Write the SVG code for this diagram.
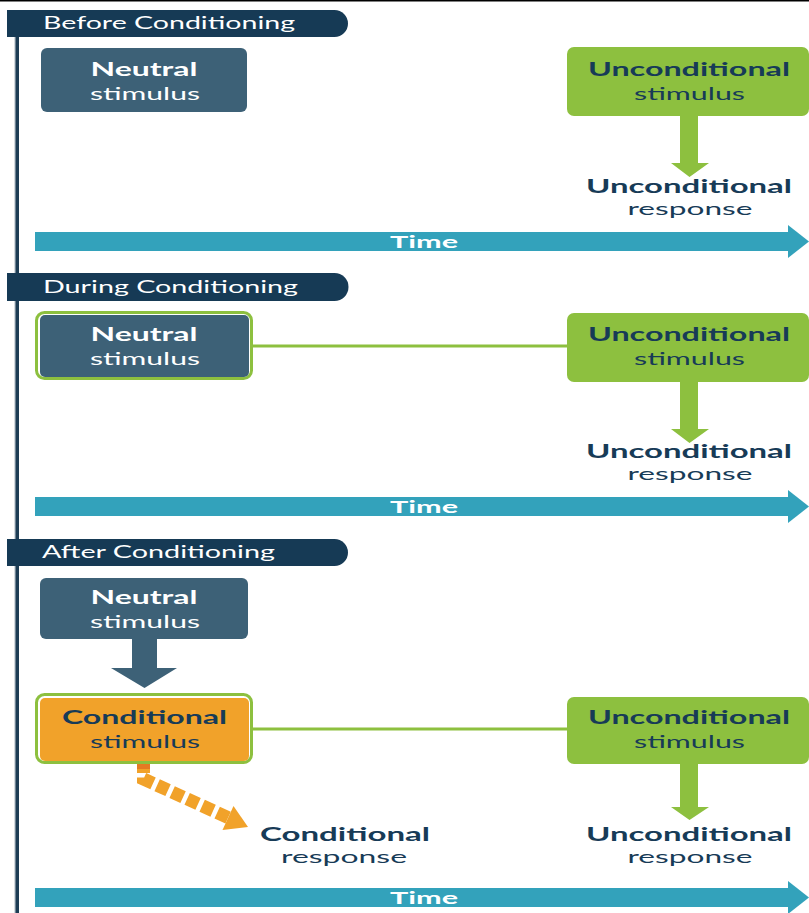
<svg xmlns="http://www.w3.org/2000/svg" width="809" height="913" viewBox="0 0 809 913">
<style>
.hdr{fill:#163A55}
.hdrt{font-family:Lato,"Open Sans",sans-serif;font-size:17px;fill:#ffffff}
.slate{fill:#3D6177}
.green{fill:#8DC03F}
.orange{fill:#F1A22A}
.frame{fill:#ffffff;stroke:#8DC03F;stroke-width:3}
.b{font-family:Lato,"Open Sans",sans-serif;font-size:18px;font-weight:700;text-anchor:middle}
.r{font-family:Lato,"Open Sans",sans-serif;font-size:18px;font-weight:400;text-anchor:middle}
.w{fill:#ffffff}
.n{fill:#173B57}
.time{fill:#33A2BB}
.tt{font-family:Lato,"Open Sans",sans-serif;font-size:17px;font-weight:700;fill:#ffffff;text-anchor:middle}
.link{stroke:#8DC03F;stroke-width:3;fill:none}
</style>
<rect x="0" y="0" width="809" height="1.5" fill="#000000"/>
<g id="timeline-axis">
<rect x="14.5" y="10" width="1.2" height="903" fill="#A9B6C0"/>
<rect x="15.5" y="10" width="3.5" height="903" fill="#1D3D55"/>
</g>
<g id="header-before">
<path class="hdr" d="M7,10 H334.5 A13.5,13.5 0 0 1 334.5,37 H7 Z"/>
<text class="hdrt" x="43" y="29" textLength="252" lengthAdjust="spacingAndGlyphs">Before Conditioning</text>
</g>
<g id="header-during">
<path class="hdr" d="M7,273 H334.5 A14,14 0 0 1 334.5,301 H7 Z"/>
<text class="hdrt" x="43" y="293" textLength="255" lengthAdjust="spacingAndGlyphs">During Conditioning</text>
</g>
<g id="header-after">
<path class="hdr" d="M7,539 H334.5 A13.5,13.5 0 0 1 334.5,566 H7 Z"/>
<text class="hdrt" x="42" y="558" textLength="233" lengthAdjust="spacingAndGlyphs">After Conditioning</text>
</g>
<g id="connectors">
<line class="link" x1="252" y1="346" x2="568" y2="346"/>
<line class="link" x1="252" y1="729" x2="568" y2="729"/>
<path class="green" d="M680,115 H698 V163 H709 L689.5,177 L671,163 H680 Z"/>
<path class="green" d="M680,381 H698 V429 H709 L689.5,443 L671,429 H680 Z"/>
<path class="green" d="M680,763 H698 V807 H709 L689.5,820 L671,807 H680 Z"/>
<path class="slate" d="M132,638 H157 V668 H177 L144.5,688 L111,668 H132 Z"/>
<path d="M143.5,761 V779 L229,818" fill="none" stroke="#F1A22A" stroke-width="13" stroke-dasharray="12 4.5" stroke-linejoin="miter"/>
<rect x="137" y="761" width="13" height="8" fill="#E57A22"/>
<polygon points="248,827 222.5,830 233.5,806" fill="#F1A22A"/>
</g>
<g id="neutral-before">
<rect class="slate" x="41" y="48" width="206" height="64" rx="6"/>
<text class="b w" x="144" y="76" textLength="107" lengthAdjust="spacingAndGlyphs">Neutral</text>
<text class="r w" x="145" y="100" textLength="110" lengthAdjust="spacingAndGlyphs">stimulus</text>
</g>
<g id="us-before">
<rect class="green" x="567" y="47" width="242" height="69" rx="7"/>
<text class="b n" x="689" y="76" textLength="202" lengthAdjust="spacingAndGlyphs">Unconditional</text>
<text class="r n" x="689.5" y="100" textLength="111" lengthAdjust="spacingAndGlyphs">stimulus</text>
</g>
<g id="ur-before">
<text class="b n" x="689" y="193" textLength="206" lengthAdjust="spacingAndGlyphs">Unconditional</text>
<text class="r n" x="690" y="215" textLength="125" lengthAdjust="spacingAndGlyphs">response</text>
</g>
<g id="time-before">
<rect class="time" x="35" y="232" width="754" height="19"/>
<polygon class="time" points="788,225 809,241.5 788,258"/>
<text class="tt" x="424" y="248" textLength="68" lengthAdjust="spacingAndGlyphs">Time</text>
</g>
<g id="neutral-during">
<rect class="frame" x="36.5" y="312.5" width="215" height="66" rx="8"/>
<rect class="slate" x="40" y="315" width="209" height="62" rx="5"/>
<text class="b w" x="144" y="341" textLength="107" lengthAdjust="spacingAndGlyphs">Neutral</text>
<text class="r w" x="145" y="365" textLength="110" lengthAdjust="spacingAndGlyphs">stimulus</text>
</g>
<g id="us-during">
<rect class="green" x="567" y="313" width="242" height="69" rx="7"/>
<text class="b n" x="689" y="341" textLength="202" lengthAdjust="spacingAndGlyphs">Unconditional</text>
<text class="r n" x="689.5" y="365" textLength="111" lengthAdjust="spacingAndGlyphs">stimulus</text>
</g>
<g id="ur-during">
<text class="b n" x="689" y="458" textLength="206" lengthAdjust="spacingAndGlyphs">Unconditional</text>
<text class="r n" x="690" y="480" textLength="125" lengthAdjust="spacingAndGlyphs">response</text>
</g>
<g id="time-during">
<rect class="time" x="35" y="497" width="754" height="19"/>
<polygon class="time" points="788,490 809,506.5 788,523"/>
<text class="tt" x="424" y="513" textLength="68" lengthAdjust="spacingAndGlyphs">Time</text>
</g>
<g id="neutral-after">
<rect class="slate" x="40" y="578" width="208" height="61" rx="6"/>
<text class="b w" x="144" y="604" textLength="107" lengthAdjust="spacingAndGlyphs">Neutral</text>
<text class="r w" x="145" y="628" textLength="110" lengthAdjust="spacingAndGlyphs">stimulus</text>
</g>
<g id="cs-after">
<rect class="frame" x="36.5" y="694.5" width="215" height="68" rx="8"/>
<rect class="orange" x="40" y="698" width="209" height="63" rx="5"/>
<text class="b n" x="144.5" y="724" textLength="165" lengthAdjust="spacingAndGlyphs">Conditional</text>
<text class="r n" x="145" y="748" textLength="110" lengthAdjust="spacingAndGlyphs">stimulus</text>
</g>
<g id="cr-after">
<text class="b n" x="345" y="841" textLength="170" lengthAdjust="spacingAndGlyphs">Conditional</text>
<text class="r n" x="344" y="863" textLength="126" lengthAdjust="spacingAndGlyphs">response</text>
</g>
<g id="us-after">
<rect class="green" x="567" y="697" width="242" height="67" rx="7"/>
<text class="b n" x="689" y="724" textLength="202" lengthAdjust="spacingAndGlyphs">Unconditional</text>
<text class="r n" x="689.5" y="748" textLength="111" lengthAdjust="spacingAndGlyphs">stimulus</text>
</g>
<g id="ur-after">
<text class="b n" x="689" y="841" textLength="206" lengthAdjust="spacingAndGlyphs">Unconditional</text>
<text class="r n" x="690" y="863" textLength="125" lengthAdjust="spacingAndGlyphs">response</text>
</g>
<g id="time-after">
<rect class="time" x="35" y="888" width="754" height="19"/>
<polygon class="time" points="788,881 809,897.5 788,914"/>
<text class="tt" x="424" y="904" textLength="68" lengthAdjust="spacingAndGlyphs">Time</text>
</g>
</svg>
